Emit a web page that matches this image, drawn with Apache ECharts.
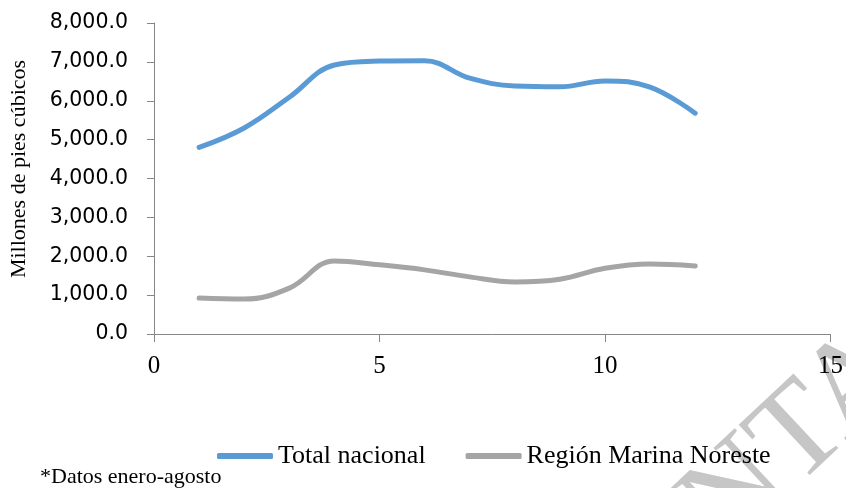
<!DOCTYPE html>
<html>
<head>
<meta charset="utf-8">
<script src="https://cdn.jsdelivr.net/npm/echarts@6/dist/echarts.min.js"></script>
<style>
html,body{margin:0;padding:0;background:#fff;}
#c{width:846px;height:488px;}
</style>
</head>
<body>
<div id="c"></div>
<script>
var months = [1, 2, 3, 4, 5, 6, 7, 8, 9, 10, 11, 12];
var totalNacional = [4800, 5300, 6090, 6920, 7020, 7030, 6580, 6380, 6360, 6510, 6350, 5680];
var regionMarinaNoreste = [925, 900, 1180, 1880, 1780, 1650, 1470, 1340, 1410, 1690, 1800, 1750];
var seriesNames = ['Total nacional', 'Región Marina Noreste'];
var yTitle = 'Millones de pies cúbicos';
var footnote = '*Datos enero-agosto';

function pairs(xs, ys) { return xs.map(function (x, i) { return [x, ys[i]]; }); }

var chart = echarts.init(document.getElementById('c'), null, {renderer: 'canvas'});
var axisColor = '#868686';
chart.setOption({
  animation: false,
  backgroundColor: '#ffffff',
  grid: {left: 154, right: 15, top: 23, bottom: 154, containLabel: false},
  xAxis: {
    type: 'value', min: 0, max: 15, interval: 5,
    axisLine: {show: true, lineStyle: {color: axisColor, width: 1}},
    axisTick: {show: true, length: 8, inside: false, lineStyle: {color: axisColor}},
    splitLine: {show: false},
    axisLabel: {margin: 20, color: '#000', fontFamily: 'Liberation Serif', fontSize: 25}
  },
  yAxis: {
    type: 'value', min: 0, max: 8000, interval: 1000,
    axisLine: {show: true, lineStyle: {color: axisColor, width: 1}},
    axisTick: {show: true, length: 7, inside: false, lineStyle: {color: axisColor}},
    splitLine: {show: false},
    axisLabel: {
      margin: 26, color: '#000', fontFamily: 'DejaVu Sans', fontSize: 20.5,
      formatter: function (v) {
        return v.toLocaleString('en-US', {minimumFractionDigits: 1, maximumFractionDigits: 1});
      }
    }
  },
  legend: {
    left: 212, top: 438,
    itemWidth: 56, itemHeight: 6, itemGap: 40,
    icon: 'roundRect',
    textStyle: {fontFamily: 'Liberation Serif', fontSize: 26, color: '#000'},
    data: seriesNames
  },
  graphic: [
    {
      type: 'text', z: -10, silent: true,
      x: 797, y: 440, rotation: 0.75,
      style: {text: 'NTA', fill: '#c6c6c6', fontSize: 130, fontFamily: 'Liberation Serif', align: 'center', verticalAlign: 'middle'}
    },
    {
      type: 'text', left: 40, top: 466,
      style: {text: footnote, fill: '#000', fontSize: 22, fontFamily: 'Liberation Serif'}
    },
    {
      type: 'text', x: 8, y: 169, rotation: Math.PI / 2,
      style: {text: yTitle, fill: '#000', fontSize: 22, fontFamily: 'Liberation Serif', align: 'center', verticalAlign: 'top'}
    }
  ],
  series: [
    {
      name: seriesNames[0], type: 'line', smooth: 0.4, symbol: 'none',
      data: pairs(months, totalNacional),
      lineStyle: {color: '#5B9BD5', width: 5, cap: 'round', join: 'round'},
      itemStyle: {color: '#5B9BD5'}
    },
    {
      name: seriesNames[1], type: 'line', smooth: 0.4, symbol: 'none',
      data: pairs(months, regionMarinaNoreste),
      lineStyle: {color: '#A5A5A5', width: 5, cap: 'round', join: 'round'},
      itemStyle: {color: '#A5A5A5'}
    }
  ]
});
</script>
</body>
</html>
